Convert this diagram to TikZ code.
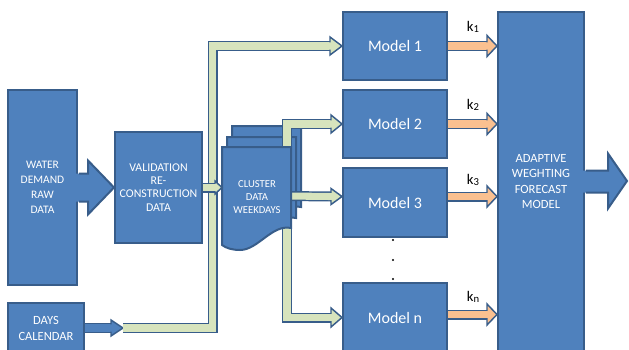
\documentclass[tikz,border=0pt]{standalone}
\usepackage{fontspec}
\setmainfont{Carlito}
\usetikzlibrary{calc,fit}
\definecolor{boxfill}{HTML}{4F81BD}
\definecolor{boxedge}{HTML}{385D8A}
\definecolor{bandfill}{HTML}{D7E4BD}
\definecolor{orangefill}{HTML}{FAC090}
\tikzset{
  box/.style={draw=boxedge, fill=boxfill, line width=1.5pt, inner sep=0pt},
  boxtext/.style={text=white, align=center, inner sep=0pt},
  capsbig/.style={font=\fontsize{8.6}{11.3}\selectfont},
  capsadapt/.style={font=\fontsize{9.4}{11.3}\selectfont},
  capsdays/.style={font=\fontsize{9.4}{12}\selectfont},
  capsvalid/.style={font=\fontsize{8.9}{9.9}\selectfont},
  capssmall/.style={font=\fontsize{8}{9.9}\selectfont},
  modeltext/.style={font=\fontsize{12}{14}\selectfont},
  klabel/.style={font=\fontsize{11}{13}\selectfont, text=black, inner sep=0pt},
  band/.style={draw=boxedge, line width=1.1pt, double=#1, double distance=5.3pt, line cap=butt, line join=miter},
  edge/.style={draw=boxedge, line width=1.5pt, line join=miter},
  docshape/.style={draw=boxedge, fill=boxfill, line width=1.5pt, line join=miter},
}
% tip at named coordinate #1, fill #2, length #3, half height #4 (all in px units)
\newcommand\bandtip[4]{%
  \fill[#2] ($(#1)+(-#3,-#4)$) -- (#1) -- ($(#1)+(-#3,#4)$) -- cycle;
  \draw[boxedge, line width=1.1pt, line join=miter] ($(#1)+(-#3,-3.6)$) -- ($(#1)+(-#3,-#4)$) -- (#1) -- ($(#1)+(-#3,#4)$) -- ($(#1)+(-#3,3.6)$);
}
\newcommand\ksub[1]{k\raisebox{-0.6pt}{\fontsize{8}{9}\selectfont #1}}
\newcommand\docpath{(222,147) -- (291,147) -- (291,228) .. controls (272,224) and (258,250) .. (240,250) .. controls (232,250) and (226,248) .. (222,245) -- cycle}
\begin{document}
\begin{tikzpicture}[x=0.75pt, y=-0.75pt]
\useasboundingbox (0,0) rectangle (629,350);
\fill[white] (0,0) rectangle (629,350);

% boxes
\node[box, fit={(8,90) (77,285)}] (water) {};
\node[box, fit={(115,132) (202,243)}] (valid) {};
\node[box, fit={(8,303) (84,353)}] (days) {};
\node[box, fit={(343,12) (447,80)}] (m1) {};
\node[box, fit={(343,90) (447,158)}] (m2) {};
\node[box, fit={(343,168) (447,237)}] (m3) {};
\node[box, fit={(343,283) (447,352)}] (mn) {};
\node[box, fit={(498,12) (584,351)}] (adapt) {};

% box texts
\node[boxtext, capsbig] (waterT) at (water.center) {WATER\\DEMAND\\RAW\\DATA};
\node[boxtext, capsvalid] (validT) at (valid.center) {VALIDATION\\RE-\\CONSTRUCTION\\DATA};
\node[boxtext, capsdays] (daysT) at (days.center) {DAYS\\CALENDAR};
\node[boxtext, modeltext] (m1T) at (m1.center) {Model 1};
\node[boxtext, modeltext] (m2T) at (m2.center) {Model 2};
\node[boxtext, modeltext] (m3T) at (m3.center) {Model 3};
\node[boxtext, modeltext] (mnT) at (mn.center) {Model n};
\node[boxtext, capsadapt] (adaptT) at (adapt.center) {ADAPTIVE\\WEGHTING\\FORECAST\\MODEL};

% block arrow water -> validation
\fill[boxfill] ($(water.east)+(-2,-14)$) -- ($(water.east)+(10,-14)$) -- ($(water.east)+(10,-27)$) -- (valid.west)
  -- ($(water.east)+(10,27)$) -- ($(water.east)+(10,14)$) -- ($(water.east)+(-2,14)$) -- cycle;
\draw[edge] ($(water.east)+(0.8,-14)$) -- ($(water.east)+(10,-14)$) -- ($(water.east)+(10,-27)$) -- (valid.west)
  -- ($(water.east)+(10,27)$) -- ($(water.east)+(10,14)$) -- ($(water.east)+(0.8,14)$);

% block arrow adaptive -> output
\coordinate (out) at (627,181);
\fill[boxfill] ($(adapt.east)+(-2,-11)$) -- ($(adapt.east)+(23,-11)$) -- ($(adapt.east)+(23,-28)$) -- (out)
  -- ($(adapt.east)+(23,27)$) -- ($(adapt.east)+(23,11)$) -- ($(adapt.east)+(-2,11)$) -- cycle;
\draw[edge] ($(adapt.east)+(0.8,-11)$) -- ($(adapt.east)+(23,-11)$) -- ($(adapt.east)+(23,-28)$) -- (out)
  -- ($(adapt.east)+(23,27)$) -- ($(adapt.east)+(23,11)$) -- ($(adapt.east)+(0.8,11)$);

% back documents of the cluster stack
\begin{scope}[shift={(10,-21)}]
  \path[docshape] \docpath;
\end{scope}
\begin{scope}[shift={(5,-10)}]
  \path[docshape] \docpath;
\end{scope}

% bands leaving the cluster
\coordinate (c2) at (287,150);
\coordinate (c3) at (287,196);
\coordinate (cn) at (287,222);
\coordinate (m3in) at ($(m3.west)+(0,-6)$);
\draw[band=bandfill] (c2) |- ($(m2.west)+(-11,0)$);
\bandtip{m2.west}{bandfill}{11}{9}
\draw[band=bandfill] (c3) -- ($(m3in)+(-11,0)$);
\bandtip{m3in}{bandfill}{11}{8}
\draw[band=bandfill] (cn) |- ($(mn.west)+(-11,0)$);
\bandtip{mn.west}{bandfill}{11}{9.5}

% front document
\path[docshape] \docpath;
\node[boxtext, capssmall] (cluster) at (257,197) {CLUSTER\\DATA\\WEEKDAYS};

% days calendar arrow and band to model 1
\coordinate (g0) at (123,328);
\coordinate (v1) at (212.5,46);
\draw[band=boxfill] (days.east) -- ($(g0)+(-12,0)$);
\bandtip{g0}{boxfill}{12}{8}
\draw[band=bandfill] (g0) -| (v1) -- ($(m1.west)+(-12,0)$);
\bandtip{m1.west}{bandfill}{12}{9}

% validation -> cluster
\coordinate (cw) at (222,187.5);
\draw[band=bandfill] (valid.east) -- ($(cw)+(-7,0)$);
\bandtip{cw}{bandfill}{7}{6.5}

% orange arrows models -> adaptive
\foreach \m/\dy in {m1/0, m2/0, m3/-6, mn/-3} {
  \coordinate (s) at ($(\m.east)+(0,\dy)$);
  \coordinate (t) at (s -| adapt.west);
  \draw[band=orangefill] (s) -- ($(t)+(-10,0)$);
  \bandtip{t}{orangefill}{10}{10.5}
}

% labels
\node[klabel] (k1) at (473,27) {\ksub{1}};
\node[klabel] (k2) at (473,105) {\ksub{2}};
\node[klabel] (k3) at (473,180) {\ksub{3}};
\node[klabel] (kn) at (473,297) {\ksub{n}};

% dots
\foreach \yy in {240,260,279} \fill[black] (393,\yy) circle (0.9pt);
\end{tikzpicture}
\end{document}
